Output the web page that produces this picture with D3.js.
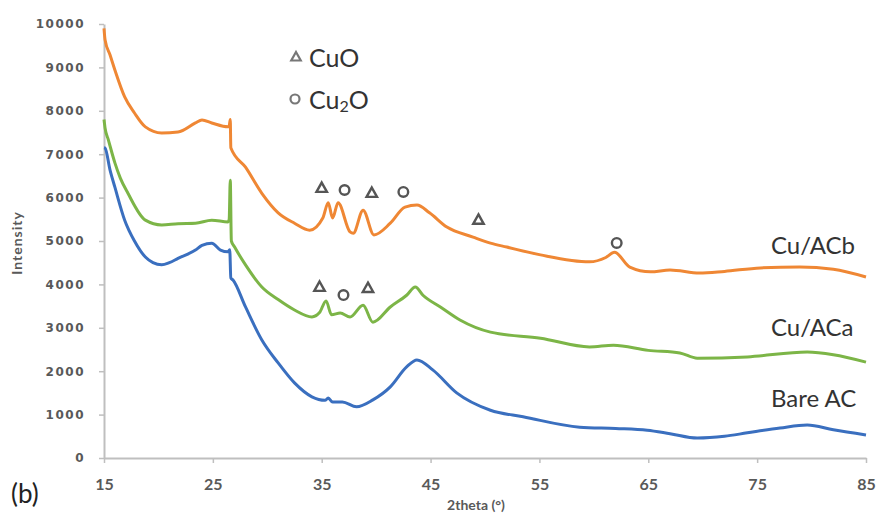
<!DOCTYPE html>
<html><head><meta charset="utf-8">
<script src="https://cdn.jsdelivr.net/npm/d3@7"></script>
<style>body{margin:0;background:#fff;}svg{display:block;font-family:Lato,"Open Sans",sans-serif;}</style>
</head><body>
<svg id="c" width="883" height="524"></svg>
<script>
// ---- data ----
const xTicks = [15, 25, 35, 45, 55, 65, 75, 85];
const yTicks = [0, 1000, 2000, 3000, 4000, 5000, 6000, 7000, 8000, 9000, 10000];

const bareX = [15,15.1,15.55,16.0,16.9,17.8,18.8,19.5,20.3,21.0,21.8,23.4,24.0,24.9,25.7,26.4,26.55,26.65,26.85,28.0,29.5,31.0,32.5,34.1,35.3,35.6,36.0,36.9,38.2,39.7,41.3,42.8,43.75,45.2,47.4,50.5,53.5,58.7,62.0,64.9,67.0,69.5,72.0,74.1,77.1,79.6,82.0,85];
const bareY = [7150,7140,6640,6240,5480,5000,4630,4500,4450,4500,4600,4790,4900,4950,4790,4750,4800,4150,4100,3480,2720,2190,1730,1410,1330,1380,1290,1290,1180,1340,1640,2100,2260,2030,1500,1100,950,710,680,640,560,460,500,580,690,760,650,530];

const acaX = [15,15.1,15.4,16.0,16.5,17.2,18.8,20.3,21.8,23.4,24.9,26.4,26.5,26.6,26.7,27.0,28.0,29.5,31.0,32.5,34.1,34.8,35.4,35.9,36.7,37.6,38.8,39.7,41.3,42.8,43.6,44.3,45.9,47.7,50.5,55.1,59.6,61.8,65.0,67.9,69.5,74.1,79.6,82.0,85];
const acaY = [7800,7600,7330,6800,6450,6100,5480,5370,5400,5410,5480,5440,5500,6400,5000,4860,4450,3940,3650,3410,3250,3350,3620,3300,3340,3250,3520,3130,3480,3750,3940,3750,3480,3180,2900,2760,2560,2600,2480,2420,2300,2330,2440,2380,2210];

const acbX = [15,15.1,15.55,16.0,16.9,17.8,18.8,20.3,21.8,23.4,24.0,24.9,26.4,26.5,26.6,26.65,28.0,29.5,31.0,32.5,33.9,35.1,35.6,36.0,36.5,37.6,37.9,38.8,39.8,41.3,42.65,43.75,44.9,46.5,48.9,50.5,52.0,55.1,59.6,61.1,61.9,63.3,65.2,67.0,69.7,72.0,75.3,78.9,82.0,85];
const acbY = [9900,9630,9290,8940,8320,7950,7630,7490,7510,7720,7790,7720,7630,7650,7800,7150,6700,6100,5650,5410,5250,5530,5880,5530,5880,5210,5180,5710,5140,5410,5780,5830,5650,5320,5090,4950,4860,4680,4520,4620,4740,4400,4290,4330,4260,4300,4380,4400,4350,4170];

const seriesNames = ["Cu/ACb", "Cu/ACa", "Bare AC"];
const seriesColors = ["#ef8734", "#7cb547", "#3a6fbf"];

// phase markers
const cuoX = [35.0, 39.6, 49.4, 34.8, 39.25];
const cuoY = [6220, 6105, 5485, 3940, 3915];
const cu2oX = [37.1, 42.5, 62.1, 37.0];
const cu2oY = [6175, 6130, 4955, 3755];

// ---- drawing ----
const svg = d3.select("#c");
const x = d3.scaleLinear().domain([15, 85]).range([104, 866]);
const y = d3.scaleLinear().domain([0, 10000]).range([458, 24]);
const axisCol = "#bfbfbf";
const textCol = "#595959";

const yAxis = svg.append("g").attr("transform", "translate(104,0)")
  .call(d3.axisLeft(y).tickValues(yTicks).tickFormat(d3.format("d")).tickSize(5).tickSizeOuter(0).tickPadding(14));
const xAxis = svg.append("g").attr("transform", "translate(0,458)")
  .call(d3.axisBottom(x).tickValues(xTicks).tickFormat(d3.format("d")).tickSize(5).tickSizeOuter(0).tickPadding(16));
[yAxis, xAxis].forEach(a => {
  a.select(".domain").attr("stroke", axisCol).attr("stroke-width", 2);
  a.selectAll(".tick line").attr("stroke", axisCol).attr("stroke-width", 1.5);
  a.selectAll(".tick text").attr("fill", textCol).attr("font-weight", "bold");
});
yAxis.selectAll(".tick text").attr("x", -19).attr("font-size", 12)
  .attr("font-family", "'DejaVu Sans', sans-serif").attr("letter-spacing", 1.5);
xAxis.selectAll(".tick text").attr("font-size", 16).attr("font-family", "Lato, sans-serif");

const line = d3.line().x(d => x(d[0])).y(d => y(d[1])).curve(d3.curveMonotoneX);
const series = [[acbX, acbY], [acaX, acaY], [bareX, bareY]];
series.forEach((s, i) => {
  const pts = s[0].map((v, j) => [v, s[1][j]]);
  svg.append("path").datum(pts).attr("d", line)
    .attr("fill", "none").attr("stroke", seriesColors[i]).attr("stroke-width", 3)
    .attr("stroke-linejoin", "round");
});

// markers
const markCol = "#555";
function tri(cx, cy, s) {
  return `M${cx},${cy - s} L${cx + s * 0.95},${cy + s * 0.7} L${cx - s * 0.95},${cy + s * 0.7} Z`;
}
cuoX.forEach((v, i) => {
  svg.append("path").attr("d", tri(x(v), y(cuoY[i]), 5.5))
    .attr("fill", "#fff").attr("stroke", markCol).attr("stroke-width", 2.4);
});
cu2oX.forEach((v, i) => {
  svg.append("circle").attr("cx", x(v)).attr("cy", y(cu2oY[i])).attr("r", 4.8)
    .attr("fill", "#fff").attr("stroke", markCol).attr("stroke-width", 2.4);
});

// legend
svg.append("path").attr("d", tri(296, 57, 5)).attr("fill", "#fff").attr("stroke", "#777").attr("stroke-width", 2.2);
svg.append("circle").attr("cx", 295).attr("cy", 99).attr("r", 4.5).attr("fill", "#fff").attr("stroke", "#777").attr("stroke-width", 2.2);
svg.append("text").attr("x", 309).attr("y", 67).attr("font-size", 25).attr("fill", "#333")
  .attr("font-family", "Lato, sans-serif").text("CuO");
const t2 = svg.append("text").attr("x", 309).attr("y", 109).attr("font-size", 25).attr("fill", "#333")
  .attr("font-family", "Lato, sans-serif");
t2.append("tspan").text("Cu");
t2.append("tspan").attr("font-size", 16).attr("dy", 3).text("2");
t2.append("tspan").attr("dy", -3).text("O");

// series labels
const labelY = [254, 336, 407];
seriesNames.forEach((n, i) => {
  svg.append("text").attr("x", 771).attr("y", labelY[i])
    .attr("font-size", 24).attr("fill", "#333").attr("font-family", "Lato, sans-serif").text(n);
});

// axis titles
svg.append("text").attr("x", 476).attr("y", 510).attr("text-anchor", "middle")
  .attr("font-size", 14).attr("font-weight", "bold").attr("fill", textCol)
  .attr("font-family", "Lato, sans-serif").text("2theta (°)");
svg.append("text").attr("transform", "translate(22,243) rotate(-90)").attr("text-anchor", "middle")
  .attr("font-size", 14).attr("font-weight", "bold").attr("fill", textCol).attr("letter-spacing", 1)
  .attr("font-family", "Lato, sans-serif").text("Intensity");
svg.append("text").attr("x", 11).attr("y", 503).attr("font-size", 26).attr("fill", "#222")
  .attr("font-family", "Lato, sans-serif").text("(b)");
</script>
</body></html>
